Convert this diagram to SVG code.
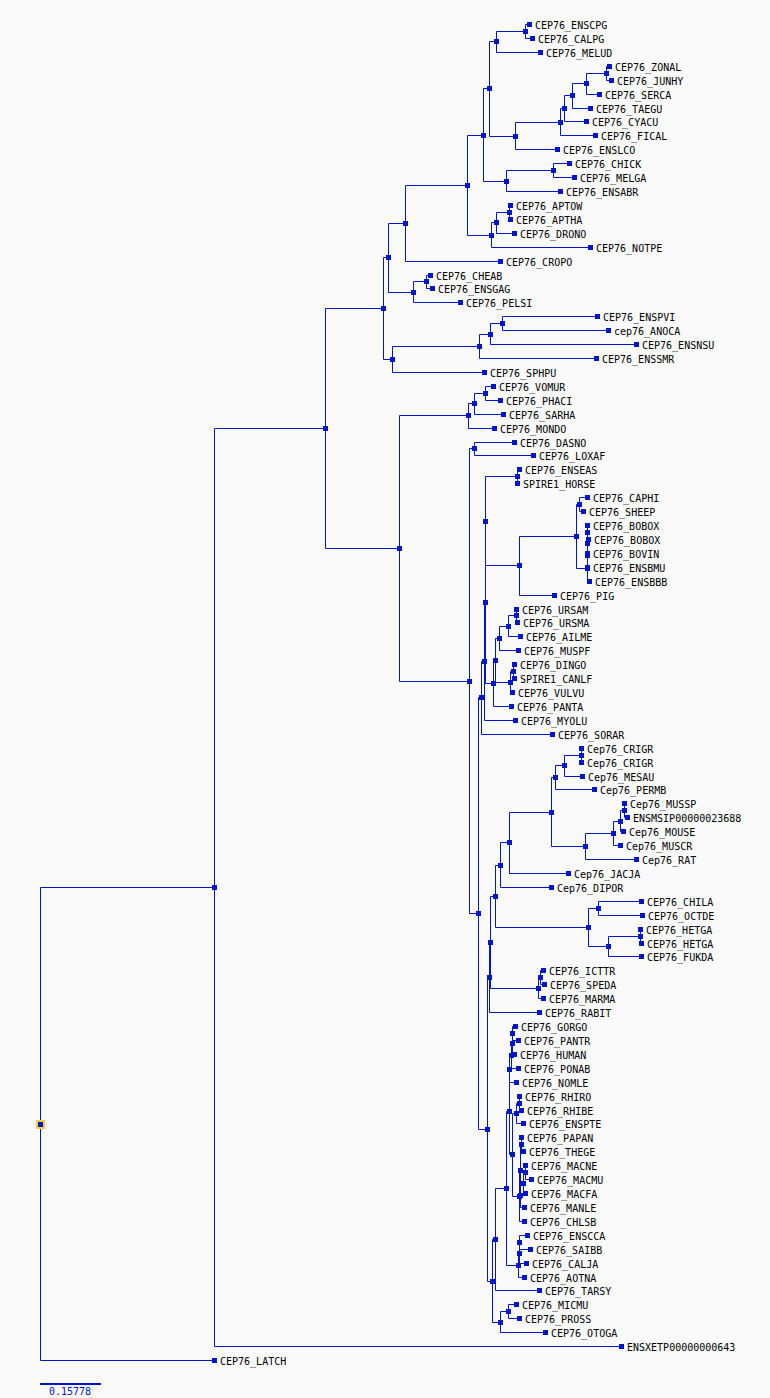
<svg xmlns="http://www.w3.org/2000/svg" xmlns:xlink="http://www.w3.org/1999/xlink" width="770" height="1398" viewBox="0 0 770 1398">
<style>
.c{fill:none;stroke:#0016c8;stroke-width:1}
.n{fill:#0016c8}
.t{font-family:"DejaVu Sans Mono","Liberation Mono",monospace;font-size:10px;fill:#000}
.s{font-family:"DejaVu Sans Mono","Liberation Mono",monospace;font-size:10px;fill:#0016c8}
</style>
<defs><rect id="sq" class="n" x="-2" y="-2" width="5" height="5"/></defs>
<rect width="770" height="1398" fill="#fafafa"/>
<g id="connectors" class="c" transform="translate(0.5,0.5)">
<path d="M529 24H525V38H532"/>
<path d="M525 31H496V52H540"/>
<path d="M609 66H606V80H611"/>
<path d="M606 73H586V94H599"/>
<path d="M586 83H572V108H590"/>
<path d="M572 95H564V121H586"/>
<path d="M564 108H560V135H595"/>
<path d="M560 122H515V149H557"/>
<path d="M496 41H489V136H515"/>
<path d="M569 163H553V177H574"/>
<path d="M553 170H506V191H560"/>
<path d="M489 88H483V181H506"/>
<path d="M510 205H509V219H510"/>
<path d="M509 212H496V233H514"/>
<path d="M496 222H491V247H590"/>
<path d="M483 135H467V235H491"/>
<path d="M467 185H405V261H500"/>
<path d="M430 275H426V288H432"/>
<path d="M426 281H413V302H460"/>
<path d="M405 223H388V292H413"/>
<path d="M597 316H502V330H608"/>
<path d="M502 323H490V344H636"/>
<path d="M490 334H479V358H596"/>
<path d="M479 346H392V372H484"/>
<path d="M388 257H383V359H392"/>
<path d="M493 386H485V400H500"/>
<path d="M485 393H474V414H503"/>
<path d="M474 403H468V428H494"/>
<path d="M514 442H474V455H533"/>
<path d="M519 469H517V483"/>
<path d="M587 497H579V511H583"/>
<path d="M587 525V539H588"/>
<path d="M587 532V553"/>
<path d="M587 543V567"/>
<path d="M587 555V581H589"/>
<path d="M579 504H576V568H587"/>
<path d="M576 536H519V595H554"/>
<path d="M517 476H485V565H519"/>
<path d="M516 609V622H517"/>
<path d="M516 615H508V636H520"/>
<path d="M508 626H499V650H518"/>
<path d="M514 664H513V678H514"/>
<path d="M513 671H510V692H512"/>
<path d="M499 638H495V682H510"/>
<path d="M495 660H493V706H511"/>
<path d="M485 521V683H493"/>
<path d="M485 602H484V720H515"/>
<path d="M484 661H481V734H552"/>
<path d="M581 748V762"/>
<path d="M581 755H564V776H582"/>
<path d="M564 765H555V789H594"/>
<path d="M624 803V817H627"/>
<path d="M624 810H620V831H623"/>
<path d="M620 821H613V845H620"/>
<path d="M613 833H585V859H636"/>
<path d="M555 777H551V846H585"/>
<path d="M551 812H509V873H568"/>
<path d="M509 842H500V887H551"/>
<path d="M641 901H598V915H642"/>
<path d="M640 929V943H641"/>
<path d="M640 936H608V956H641"/>
<path d="M598 908H588V946H608"/>
<path d="M500 865H495V927H588"/>
<path d="M543 970H540V984H544"/>
<path d="M540 977H538V998H543"/>
<path d="M495 896H490V988H538"/>
<path d="M490 942H489V1012H539"/>
<path d="M515 1026H512V1040H518"/>
<path d="M512 1033V1054H514"/>
<path d="M512 1043H511V1068H518"/>
<path d="M511 1055H509V1082H516"/>
<path d="M519 1096V1110H521"/>
<path d="M519 1103H516V1123H523"/>
<path d="M521 1137V1151H523"/>
<path d="M525 1165V1179H531"/>
<path d="M525 1172H523V1193H525"/>
<path d="M523 1183H520V1207H524"/>
<path d="M521 1144H520V1195"/>
<path d="M520 1170H519V1221H524"/>
<path d="M516 1113H512V1196H519"/>
<path d="M509 1069V1154H512"/>
<path d="M527 1235H519V1249H530"/>
<path d="M519 1242V1263H526"/>
<path d="M519 1253H518V1277H524"/>
<path d="M509 1111H506V1265H518"/>
<path d="M506 1188H495V1290H539"/>
<path d="M516 1304H508V1318H519"/>
<path d="M508 1311H500V1332H545"/>
<path d="M495 1239H492V1322H500"/>
<path d="M489 977H487V1281H492"/>
<path d="M481 697H478V1129H487"/>
<path d="M474 448H469V913H478"/>
<path d="M468 415H399V681H469"/>
<path d="M383 308H325V548H399"/>
<path d="M325 428H214V1346H621"/>
<path d="M214 887H40V1360H214"/>
</g>
<g id="internal-nodes">
<use id="n1" href="#sq" x="525" y="31"/><use id="n2" href="#sq" x="496" y="41"/><use id="n3" href="#sq" x="606" y="73"/><use id="n4" href="#sq" x="586" y="83"/><use id="n5" href="#sq" x="572" y="95"/><use id="n6" href="#sq" x="564" y="108"/><use id="n7" href="#sq" x="560" y="122"/><use id="n8" href="#sq" x="515" y="136"/><use id="n9" href="#sq" x="489" y="88"/><use id="n10" href="#sq" x="553" y="170"/><use id="n11" href="#sq" x="506" y="181"/><use id="n12" href="#sq" x="483" y="135"/><use id="n13" href="#sq" x="509" y="212"/><use id="n14" href="#sq" x="496" y="222"/><use id="n15" href="#sq" x="491" y="235"/><use id="n16" href="#sq" x="467" y="185"/><use id="n17" href="#sq" x="405" y="223"/><use id="n18" href="#sq" x="426" y="281"/><use id="n19" href="#sq" x="413" y="292"/><use id="n20" href="#sq" x="388" y="257"/><use id="n21" href="#sq" x="502" y="323"/><use id="n22" href="#sq" x="490" y="334"/><use id="n23" href="#sq" x="479" y="346"/><use id="n24" href="#sq" x="392" y="359"/><use id="n25" href="#sq" x="383" y="308"/>
<use id="n26" href="#sq" x="485" y="393"/><use id="n27" href="#sq" x="474" y="403"/><use id="n28" href="#sq" x="468" y="415"/><use id="n29" href="#sq" x="474" y="448"/><use id="n30" href="#sq" x="517" y="476"/><use id="n31" href="#sq" x="579" y="504"/><use id="n32" href="#sq" x="587" y="532"/><use id="n33" href="#sq" x="587" y="543"/><use id="n34" href="#sq" x="587" y="555"/><use id="n35" href="#sq" x="587" y="568"/><use id="n36" href="#sq" x="576" y="536"/><use id="n37" href="#sq" x="519" y="565"/><use id="n38" href="#sq" x="485" y="521"/><use id="n39" href="#sq" x="516" y="615"/><use id="n40" href="#sq" x="508" y="626"/><use id="n41" href="#sq" x="499" y="638"/><use id="n42" href="#sq" x="513" y="671"/><use id="n43" href="#sq" x="510" y="682"/><use id="n44" href="#sq" x="495" y="660"/><use id="n45" href="#sq" x="493" y="683"/><use id="n46" href="#sq" x="485" y="602"/><use id="n47" href="#sq" x="484" y="661"/><use id="n48" href="#sq" x="481" y="697"/>
<use id="n49" href="#sq" x="581" y="755"/><use id="n50" href="#sq" x="564" y="765"/><use id="n51" href="#sq" x="555" y="777"/><use id="n52" href="#sq" x="624" y="810"/><use id="n53" href="#sq" x="620" y="821"/><use id="n54" href="#sq" x="613" y="833"/><use id="n55" href="#sq" x="585" y="846"/><use id="n56" href="#sq" x="551" y="812"/><use id="n57" href="#sq" x="509" y="842"/><use id="n58" href="#sq" x="500" y="865"/><use id="n59" href="#sq" x="598" y="908"/><use id="n60" href="#sq" x="640" y="936"/><use id="n61" href="#sq" x="608" y="946"/><use id="n62" href="#sq" x="588" y="927"/><use id="n63" href="#sq" x="495" y="896"/><use id="n64" href="#sq" x="540" y="977"/><use id="n65" href="#sq" x="538" y="988"/><use id="n66" href="#sq" x="490" y="942"/><use id="n67" href="#sq" x="489" y="977"/>
<use id="n68" href="#sq" x="512" y="1033"/><use id="n69" href="#sq" x="512" y="1043"/><use id="n70" href="#sq" x="511" y="1055"/><use id="n71" href="#sq" x="509" y="1069"/><use id="n72" href="#sq" x="519" y="1103"/><use id="n73" href="#sq" x="516" y="1113"/><use id="n74" href="#sq" x="521" y="1144"/><use id="n75" href="#sq" x="525" y="1172"/><use id="n76" href="#sq" x="523" y="1183"/><use id="n77" href="#sq" x="520" y="1195"/><use id="n78" href="#sq" x="520" y="1170"/><use id="n79" href="#sq" x="519" y="1196"/><use id="n80" href="#sq" x="512" y="1154"/><use id="n81" href="#sq" x="509" y="1111"/><use id="n82" href="#sq" x="519" y="1242"/><use id="n83" href="#sq" x="519" y="1253"/><use id="n84" href="#sq" x="518" y="1265"/><use id="n85" href="#sq" x="506" y="1188"/><use id="n86" href="#sq" x="495" y="1239"/><use id="n87" href="#sq" x="508" y="1311"/><use id="n88" href="#sq" x="500" y="1322"/><use id="n89" href="#sq" x="492" y="1281"/><use id="n90" href="#sq" x="487" y="1129"/><use id="n91" href="#sq" x="478" y="913"/><use id="n92" href="#sq" x="469" y="681"/><use id="n93" href="#sq" x="399" y="548"/><use id="n94" href="#sq" x="325" y="428"/><use id="n95" href="#sq" x="214" y="887"/>
</g>
<g id="root"><rect x="36" y="1120" width="9" height="9" fill="#f4cb4c"/><rect class="n" x="38" y="1122" width="5" height="5"/></g>
<g id="ENSCPG"><use href="#sq" x="529" y="24"/><text class="t" x="535" y="29">CEP76_ENSCPG</text></g>
<g id="CALPG"><use href="#sq" x="532" y="38"/><text class="t" x="538" y="43">CEP76_CALPG</text></g>
<g id="MELUD"><use href="#sq" x="540" y="52"/><text class="t" x="546" y="57">CEP76_MELUD</text></g>
<g id="ZONAL"><use href="#sq" x="609" y="66"/><text class="t" x="615" y="71">CEP76_ZONAL</text></g>
<g id="JUNHY"><use href="#sq" x="611" y="80"/><text class="t" x="617" y="85">CEP76_JUNHY</text></g>
<g id="SERCA"><use href="#sq" x="599" y="94"/><text class="t" x="605" y="99">CEP76_SERCA</text></g>
<g id="TAEGU"><use href="#sq" x="590" y="108"/><text class="t" x="596" y="113">CEP76_TAEGU</text></g>
<g id="CYACU"><use href="#sq" x="586" y="121"/><text class="t" x="592" y="126">CEP76_CYACU</text></g>
<g id="FICAL"><use href="#sq" x="595" y="135"/><text class="t" x="601" y="140">CEP76_FICAL</text></g>
<g id="ENSLCO"><use href="#sq" x="557" y="149"/><text class="t" x="563" y="154">CEP76_ENSLCO</text></g>
<g id="CHICK"><use href="#sq" x="569" y="163"/><text class="t" x="575" y="168">CEP76_CHICK</text></g>
<g id="MELGA"><use href="#sq" x="574" y="177"/><text class="t" x="580" y="182">CEP76_MELGA</text></g>
<g id="ENSABR"><use href="#sq" x="560" y="191"/><text class="t" x="566" y="196">CEP76_ENSABR</text></g>
<g id="APTOW"><use href="#sq" x="510" y="205"/><text class="t" x="516" y="210">CEP76_APTOW</text></g>
<g id="APTHA"><use href="#sq" x="510" y="219"/><text class="t" x="516" y="224">CEP76_APTHA</text></g>
<g id="DRONO"><use href="#sq" x="514" y="233"/><text class="t" x="520" y="238">CEP76_DRONO</text></g>
<g id="NOTPE"><use href="#sq" x="590" y="247"/><text class="t" x="596" y="252">CEP76_NOTPE</text></g>
<g id="CROPO"><use href="#sq" x="500" y="261"/><text class="t" x="506" y="266">CEP76_CROPO</text></g>
<g id="CHEAB"><use href="#sq" x="430" y="275"/><text class="t" x="436" y="280">CEP76_CHEAB</text></g>
<g id="ENSGAG"><use href="#sq" x="432" y="288"/><text class="t" x="438" y="293">CEP76_ENSGAG</text></g>
<g id="PELSI"><use href="#sq" x="460" y="302"/><text class="t" x="466" y="307">CEP76_PELSI</text></g>
<g id="ENSPVI"><use href="#sq" x="597" y="316"/><text class="t" x="603" y="321">CEP76_ENSPVI</text></g>
<g id="ANOCA"><use href="#sq" x="608" y="330"/><text class="t" x="614" y="335">cep76_ANOCA</text></g>
<g id="ENSNSU"><use href="#sq" x="636" y="344"/><text class="t" x="642" y="349">CEP76_ENSNSU</text></g>
<g id="ENSSMR"><use href="#sq" x="596" y="358"/><text class="t" x="602" y="363">CEP76_ENSSMR</text></g>
<g id="SPHPU"><use href="#sq" x="484" y="372"/><text class="t" x="490" y="377">CEP76_SPHPU</text></g>
<g id="VOMUR"><use href="#sq" x="493" y="386"/><text class="t" x="499" y="391">CEP76_VOMUR</text></g>
<g id="PHACI"><use href="#sq" x="500" y="400"/><text class="t" x="506" y="405">CEP76_PHACI</text></g>
<g id="SARHA"><use href="#sq" x="503" y="414"/><text class="t" x="509" y="419">CEP76_SARHA</text></g>
<g id="MONDO"><use href="#sq" x="494" y="428"/><text class="t" x="500" y="433">CEP76_MONDO</text></g>
<g id="DASNO"><use href="#sq" x="514" y="442"/><text class="t" x="520" y="447">CEP76_DASNO</text></g>
<g id="LOXAF"><use href="#sq" x="533" y="455"/><text class="t" x="539" y="460">CEP76_LOXAF</text></g>
<g id="ENSEAS"><use href="#sq" x="519" y="469"/><text class="t" x="525" y="474">CEP76_ENSEAS</text></g>
<g id="HORSE"><use href="#sq" x="517" y="483"/><text class="t" x="523" y="488">SPIRE1_HORSE</text></g>
<g id="CAPHI"><use href="#sq" x="587" y="497"/><text class="t" x="593" y="502">CEP76_CAPHI</text></g>
<g id="SHEEP"><use href="#sq" x="583" y="511"/><text class="t" x="589" y="516">CEP76_SHEEP</text></g>
<g id="BOBOX_1"><use href="#sq" x="587" y="525"/><text class="t" x="593" y="530">CEP76_BOBOX</text></g>
<g id="BOBOX_2"><use href="#sq" x="588" y="539"/><text class="t" x="594" y="544">CEP76_BOBOX</text></g>
<g id="BOVIN"><use href="#sq" x="587" y="553"/><text class="t" x="593" y="558">CEP76_BOVIN</text></g>
<g id="ENSBMU"><use href="#sq" x="587" y="567"/><text class="t" x="593" y="572">CEP76_ENSBMU</text></g>
<g id="ENSBBB"><use href="#sq" x="589" y="581"/><text class="t" x="595" y="586">CEP76_ENSBBB</text></g>
<g id="PIG"><use href="#sq" x="554" y="595"/><text class="t" x="560" y="600">CEP76_PIG</text></g>
<g id="URSAM"><use href="#sq" x="516" y="609"/><text class="t" x="522" y="614">CEP76_URSAM</text></g>
<g id="URSMA"><use href="#sq" x="517" y="622"/><text class="t" x="523" y="627">CEP76_URSMA</text></g>
<g id="AILME"><use href="#sq" x="520" y="636"/><text class="t" x="526" y="641">CEP76_AILME</text></g>
<g id="MUSPF"><use href="#sq" x="518" y="650"/><text class="t" x="524" y="655">CEP76_MUSPF</text></g>
<g id="DINGO"><use href="#sq" x="514" y="664"/><text class="t" x="520" y="669">CEP76_DINGO</text></g>
<g id="CANLF"><use href="#sq" x="514" y="678"/><text class="t" x="520" y="683">SPIRE1_CANLF</text></g>
<g id="VULVU"><use href="#sq" x="512" y="692"/><text class="t" x="518" y="697">CEP76_VULVU</text></g>
<g id="PANTA"><use href="#sq" x="511" y="706"/><text class="t" x="517" y="711">CEP76_PANTA</text></g>
<g id="MYOLU"><use href="#sq" x="515" y="720"/><text class="t" x="521" y="725">CEP76_MYOLU</text></g>
<g id="SORAR"><use href="#sq" x="552" y="734"/><text class="t" x="558" y="739">CEP76_SORAR</text></g>
<g id="CRIGR_1"><use href="#sq" x="581" y="748"/><text class="t" x="587" y="753">Cep76_CRIGR</text></g>
<g id="CRIGR_2"><use href="#sq" x="581" y="762"/><text class="t" x="587" y="767">Cep76_CRIGR</text></g>
<g id="MESAU"><use href="#sq" x="582" y="776"/><text class="t" x="588" y="781">Cep76_MESAU</text></g>
<g id="PERMB"><use href="#sq" x="594" y="789"/><text class="t" x="600" y="794">Cep76_PERMB</text></g>
<g id="MUSSP"><use href="#sq" x="624" y="803"/><text class="t" x="630" y="808">Cep76_MUSSP</text></g>
<g id="ENSMSIP"><use href="#sq" x="627" y="817"/><text class="t" x="633" y="822">ENSMSIP00000023688</text></g>
<g id="MOUSE"><use href="#sq" x="623" y="831"/><text class="t" x="629" y="836">Cep76_MOUSE</text></g>
<g id="MUSCR"><use href="#sq" x="620" y="845"/><text class="t" x="626" y="850">Cep76_MUSCR</text></g>
<g id="RAT"><use href="#sq" x="636" y="859"/><text class="t" x="642" y="864">Cep76_RAT</text></g>
<g id="JACJA"><use href="#sq" x="568" y="873"/><text class="t" x="574" y="878">Cep76_JACJA</text></g>
<g id="DIPOR"><use href="#sq" x="551" y="887"/><text class="t" x="557" y="892">Cep76_DIPOR</text></g>
<g id="CHILA"><use href="#sq" x="641" y="901"/><text class="t" x="647" y="906">CEP76_CHILA</text></g>
<g id="OCTDE"><use href="#sq" x="642" y="915"/><text class="t" x="648" y="920">CEP76_OCTDE</text></g>
<g id="HETGA_1"><use href="#sq" x="640" y="929"/><text class="t" x="646" y="934">CEP76_HETGA</text></g>
<g id="HETGA_2"><use href="#sq" x="641" y="943"/><text class="t" x="647" y="948">CEP76_HETGA</text></g>
<g id="FUKDA"><use href="#sq" x="641" y="956"/><text class="t" x="647" y="961">CEP76_FUKDA</text></g>
<g id="ICTTR"><use href="#sq" x="543" y="970"/><text class="t" x="549" y="975">CEP76_ICTTR</text></g>
<g id="SPEDA"><use href="#sq" x="544" y="984"/><text class="t" x="550" y="989">CEP76_SPEDA</text></g>
<g id="MARMA"><use href="#sq" x="543" y="998"/><text class="t" x="549" y="1003">CEP76_MARMA</text></g>
<g id="RABIT"><use href="#sq" x="539" y="1012"/><text class="t" x="545" y="1017">CEP76_RABIT</text></g>
<g id="GORGO"><use href="#sq" x="515" y="1026"/><text class="t" x="521" y="1031">CEP76_GORGO</text></g>
<g id="PANTR"><use href="#sq" x="518" y="1040"/><text class="t" x="524" y="1045">CEP76_PANTR</text></g>
<g id="HUMAN"><use href="#sq" x="514" y="1054"/><text class="t" x="520" y="1059">CEP76_HUMAN</text></g>
<g id="PONAB"><use href="#sq" x="518" y="1068"/><text class="t" x="524" y="1073">CEP76_PONAB</text></g>
<g id="NOMLE"><use href="#sq" x="516" y="1082"/><text class="t" x="522" y="1087">CEP76_NOMLE</text></g>
<g id="RHIRO"><use href="#sq" x="519" y="1096"/><text class="t" x="525" y="1101">CEP76_RHIRO</text></g>
<g id="RHIBE"><use href="#sq" x="521" y="1110"/><text class="t" x="527" y="1115">CEP76_RHIBE</text></g>
<g id="ENSPTE"><use href="#sq" x="523" y="1123"/><text class="t" x="529" y="1128">CEP76_ENSPTE</text></g>
<g id="PAPAN"><use href="#sq" x="521" y="1137"/><text class="t" x="527" y="1142">CEP76_PAPAN</text></g>
<g id="THEGE"><use href="#sq" x="523" y="1151"/><text class="t" x="529" y="1156">CEP76_THEGE</text></g>
<g id="MACNE"><use href="#sq" x="525" y="1165"/><text class="t" x="531" y="1170">CEP76_MACNE</text></g>
<g id="MACMU"><use href="#sq" x="531" y="1179"/><text class="t" x="537" y="1184">CEP76_MACMU</text></g>
<g id="MACFA"><use href="#sq" x="525" y="1193"/><text class="t" x="531" y="1198">CEP76_MACFA</text></g>
<g id="MANLE"><use href="#sq" x="524" y="1207"/><text class="t" x="530" y="1212">CEP76_MANLE</text></g>
<g id="CHLSB"><use href="#sq" x="524" y="1221"/><text class="t" x="530" y="1226">CEP76_CHLSB</text></g>
<g id="ENSCCA"><use href="#sq" x="527" y="1235"/><text class="t" x="533" y="1240">CEP76_ENSCCA</text></g>
<g id="SAIBB"><use href="#sq" x="530" y="1249"/><text class="t" x="536" y="1254">CEP76_SAIBB</text></g>
<g id="CALJA"><use href="#sq" x="526" y="1263"/><text class="t" x="532" y="1268">CEP76_CALJA</text></g>
<g id="AOTNA"><use href="#sq" x="524" y="1277"/><text class="t" x="530" y="1282">CEP76_AOTNA</text></g>
<g id="TARSY"><use href="#sq" x="539" y="1290"/><text class="t" x="545" y="1295">CEP76_TARSY</text></g>
<g id="MICMU"><use href="#sq" x="516" y="1304"/><text class="t" x="522" y="1309">CEP76_MICMU</text></g>
<g id="PROSS"><use href="#sq" x="519" y="1318"/><text class="t" x="525" y="1323">CEP76_PROSS</text></g>
<g id="OTOGA"><use href="#sq" x="545" y="1332"/><text class="t" x="551" y="1337">CEP76_OTOGA</text></g>
<g id="ENSXETP"><use href="#sq" x="621" y="1346"/><text class="t" x="627" y="1351">ENSXETP00000000643</text></g>
<g id="LATCH"><use href="#sq" x="214" y="1360"/><text class="t" x="220" y="1365">CEP76_LATCH</text></g>
<g id="scale"><rect class="n" x="40" y="1383" width="61" height="2"/><text class="s" x="49" y="1395">0.15778</text></g>
</svg>
